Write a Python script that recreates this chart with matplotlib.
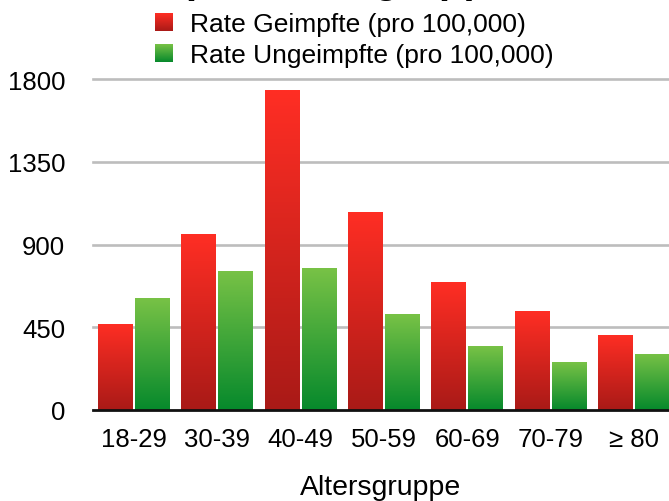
import matplotlib
matplotlib.use("Agg")
from matplotlib import pyplot as plt
from matplotlib.colors import LinearSegmentedColormap
import numpy as np

plt.rcParams['font.family'] = ['Liberation Sans', 'DejaVu Sans']

# data
groups = ["18-29", "30-39", "40-49", "50-59", "60-69", "70-79", "\u2265 80"]
rate_geimpft = [468, 957, 1740, 1077, 696, 538, 408]
rate_ungeimpft = [609, 756, 772, 522, 348, 261, 305]
yticks = [0, 450, 900, 1350, 1800]
labels = ["Rate Geimpfte (pro 100,000)", "Rate Ungeimpfte (pro 100,000)"]

red_cm = LinearSegmentedColormap.from_list("r", ["#a91a17", "#ff2e24"])
green_cm = LinearSegmentedColormap.from_list("g", ["#06892c", "#78c246"])
grad = np.linspace(0, 1, 256).reshape(-1, 1)

fig = plt.figure(figsize=(6.69, 5.02), dpi=100)
ax = fig.add_axes([93/669, 1 - 411/502, 1 - 93/669, (411 - 80)/502])

x = np.arange(len(groups))
w = 0.42
b1 = ax.bar(x - 0.222, rate_geimpft, w, color="#e0261e", label=labels[0], zorder=2)
b2 = ax.bar(x + 0.222, rate_ungeimpft, w, color="#3fa23a", label=labels[1], zorder=2)


def shade(bars, cmap):
    for p in bars:
        x0, y0 = p.get_x(), p.get_y()
        im = ax.imshow(grad, cmap=cmap, aspect="auto", origin="lower",
                       extent=[x0, x0 + p.get_width(), y0, y0 + p.get_height()],
                       zorder=3)
        im.set_clip_path(p)


shade(b1, red_cm)
shade(b2, green_cm)

ax.set_xlim(-0.494, 6.42)
ax.set_ylim(0, 1800)
ax.set_yticks(yticks)
ax.set_yticklabels([str(v) for v in yticks], fontsize=18.5)
ax.set_xticks(x)
ax.set_xticklabels(groups, fontsize=18.5)
ax.tick_params(length=0)
ax.tick_params(axis="y", pad=20)
ax.tick_params(axis="x", pad=12)
for s in ax.spines.values():
    s.set_visible(False)
for v in yticks[1:]:
    ax.axhline(v, color="#bdbdbd", lw=1.9, zorder=1, clip_on=False)
ax.axhline(0, color="#111111", lw=2.0, zorder=4, clip_on=False)
ax.set_xlabel("Altersgruppe", fontsize=20.5, labelpad=17)

leg = ax.legend(loc="upper left", bbox_to_anchor=(155/669, 1 - 13/502),
                bbox_transform=fig.transFigure, frameon=False, fontsize=19,
                handlelength=0.65, handleheight=0.65, handletextpad=0.68,
                labelspacing=0.27, borderpad=0, borderaxespad=0)

# title is cut off at the top edge in the reference
fig.text(16/669, 1.0 + 7/502, "Inzidenz pro Altersgruppe", fontsize=29,
         fontweight="bold", ha="left", va="baseline")

fig.canvas.draw()
for h, cm in zip(leg.legend_handles, [red_cm, green_cm]):
    bb = h.get_window_extent().transformed(fig.transFigure.inverted())
    hax = fig.add_axes([bb.x0, bb.y0, bb.width, bb.height])
    hax.imshow(grad, cmap=cm, aspect="auto", origin="lower")
    hax.axis("off")

fig.savefig("out.png", dpi=100)
